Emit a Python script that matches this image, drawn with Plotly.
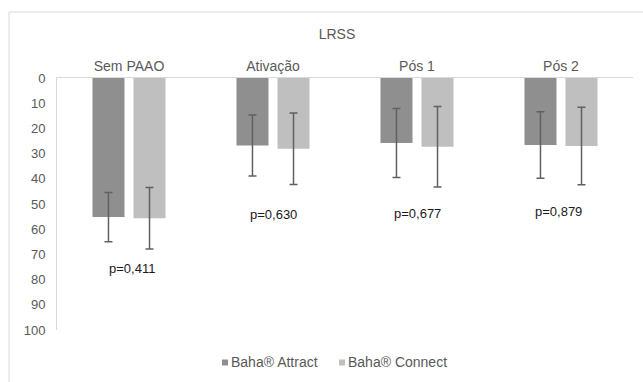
import plotly.graph_objects as go

# LRSS scores per condition
categories = ["Sem PAAO", "Ativação", "Pós 1", "Pós 2"]
attract_mean = [55.2, 26.8, 25.8, 26.6]
attract_sd = [9.8, 12.1, 13.7, 13.2]
connect_mean = [55.7, 28.1, 27.3, 27.0]
connect_sd = [12.2, 14.2, 16.0, 15.4]
p_labels = ["p=0,411", "p=0,630", "p=0,677", "p=0,879"]
p_label_y = [75.4, 54.0, 53.6, 53.0]
p_label_shift = [3, 0, 0, -3]
series_names = ["Baha® Attract", "Baha® Connect"]
series_colors = ["#8f8f8f", "#bfbfbf"]

FONT = "Liberation Sans, Arial, sans-serif"
TXT = "#595959"
W, H = 643, 382
L, R, T, B = 57, 10, 78, 52
pw = W - L - R
ph = H - T - B


def px_x(x):
    return (x - L) / pw


def px_y(y):
    return (H - B - y) / ph


fig = go.Figure()
for name, color, mean, sd in [(series_names[0], series_colors[0], attract_mean, attract_sd),
                              (series_names[1], series_colors[1], connect_mean, connect_sd)]:
    fig.add_trace(go.Bar(
        name=name, x=categories, y=mean,
        marker=dict(color=color, line=dict(width=0)),
        error_y=dict(type="data", array=sd, color="#606060", thickness=1.5, width=4),
    ))

for cat, txt, yv, dx in zip(categories, p_labels, p_label_y, p_label_shift):
    fig.add_annotation(x=cat, y=yv, text=txt, showarrow=False, xshift=dx,
                       font=dict(family=FONT, size=13, color="#1a1a1a"))

# legend row below the plot: small square key + label
legend_left = [222, 339]
for name, color, lx in zip(series_names, series_colors, legend_left):
    fig.add_shape(type="rect", xref="paper", yref="paper",
                  x0=px_x(lx), x1=px_x(lx + 6), y0=px_y(365.5), y1=px_y(359.5),
                  line=dict(width=0), fillcolor=color)
    fig.add_annotation(
        xref="paper", yref="paper", x=px_x(lx + 7), y=px_y(362),
        xanchor="left", yanchor="middle", showarrow=False, text=name,
        font=dict(family=FONT, size=14, color=TXT),
    )

# outer chart border
fig.add_shape(type="rect", xref="paper", yref="paper",
              x0=px_x(9), x1=px_x(W + 5), y0=px_y(385), y1=px_y(12),
              line=dict(color="#d9d9d9", width=1), fillcolor="rgba(0,0,0,0)", layer="below")

fig.update_layout(
    width=W, height=H,
    margin=dict(l=L, r=R, t=T, b=B),
    paper_bgcolor="white", plot_bgcolor="white",
    title=dict(text="LRSS", x=337 / W, xanchor="center", y=1 - 34 / H, yanchor="middle",
               font=dict(family=FONT, size=14, color=TXT)),
    barmode="group", bargap=0.43, bargroupgap=0.22,
    font=dict(family=FONT, size=13, color=TXT),
    showlegend=False,
    xaxis=dict(side="top", showline=True, linecolor="#d9d9d9", linewidth=1, ticks="",
               tickfont=dict(family=FONT, size=14, color=TXT), showgrid=False),
    yaxis=dict(range=[100, 0], dtick=10, showline=True, linecolor="#d9d9d9", linewidth=1,
               showgrid=False, zeroline=False, ticks="", ticklabelstandoff=8,
               tickfont=dict(family=FONT, size=13, color=TXT)),
)

fig.write_html("out.html")
